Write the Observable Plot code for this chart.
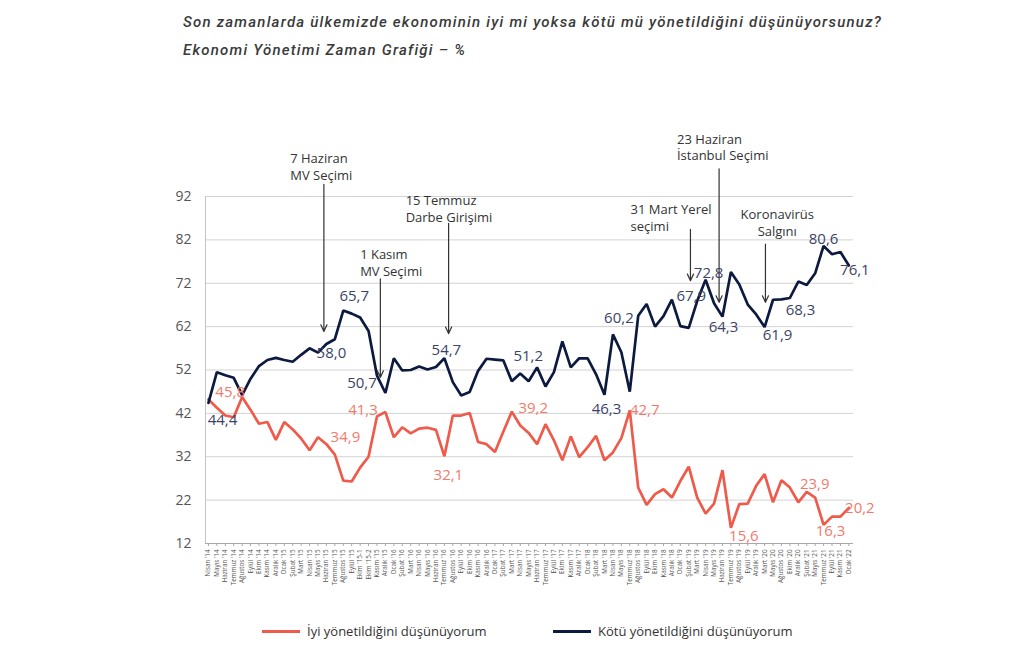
<!DOCTYPE html>
<html><head><meta charset="utf-8">
<script src="https://cdn.jsdelivr.net/npm/d3@7"></script>
<script src="https://cdn.jsdelivr.net/npm/@observablehq/plot@0.6"></script>
<style>
html,body{margin:0;padding:0;background:#fff;}
body{width:1024px;height:649px;position:relative;overflow:hidden;font-family:"Open Sans",sans-serif;}
.ttl{position:absolute;left:183px;font-family:Roboto,"Liberation Sans",sans-serif;font-style:italic;font-weight:500;font-size:15px;color:#3a3a3a;white-space:nowrap;line-height:1.2;}
#chart{position:absolute;left:0;top:70px;}
#legend{position:absolute;left:0;top:619px;width:1024px;height:24px;font-size:13px;color:#333;}
.lg{position:absolute;top:0;display:flex;align-items:center;height:24px;white-space:nowrap;}
.lg span.sw{display:inline-block;width:38px;height:3px;margin-right:7px;}
</style></head>
<body>
<div class="ttl" id="t1" style="top:13px">Son zamanlarda ülkemizde ekonominin iyi mi yoksa kötü mü yönetildiğini düşünüyorsunuz?</div>
<div class="ttl" id="t2" style="top:41px">Ekonomi Yönetimi Zaman Grafiği – %</div>
<div id="chart"></div>
<div id="legend">
  <div class="lg" style="left:262px"><span class="sw" style="background:#f05a4a"></span>İyi yönetildiğini düşünüyorum</div>
  <div class="lg" style="left:553px"><span class="sw" style="background:#0d1a40"></span>Kötü yönetildiğini düşünüyorum</div>
</div>
<script>
const months = ["Nisan '14","Mayıs '14","Haziran '14","Temmuz '14","Ağustos '14","Eylül '14","Ekim '14","Kasım '14","Aralık '14","Ocak '15","Şubat '15","Mart '15","Nisan '15","Mayıs '15","Haziran '15","Temmuz '15","Ağustos '15","Eylül '15","Ekim '15-1","Ekim '15-2","Kasım '15","Aralık '15","Ocak '16","Şubat '16","Mart '16","Nisan '16","Mayıs '16","Haziran '16","Temmuz '16","Ağustos '16","Eylül '16","Ekim '16","Kasım '16","Aralık '16","Ocak '17","Şubat '17","Mart '17","Nisan '17","Mayıs '17","Haziran '17","Temmuz '17","Eylül '17","Ekim '17","Kasım '17","Aralık '17","Ocak '18","Şubat '18","Mart '18","Nisan '18","Mayıs '18","Temmuz '18","Ağustos '18","Eylül '18","Ekim '18","Kasım '18","Aralık '18","Ocak '19","Şubat '19","Mart '19","Nisan '19","Mayıs '19","Haziran '19","Temmuz '19","Ağustos '19","Eylül '19","Aralık '19","Mart '20","Mayıs '20","Ağustos '20","Ekim '20","Aralık '20","Şubat '21","Mayıs '21","Temmuz '21","Eylül '21","Kasım '21","Ocak '22"];

const kotu = [44.4,51.5,50.8,50.2,46.2,50.0,52.9,54.3,54.8,54.3,53.9,55.5,57.0,56.0,58.0,59.1,65.7,65.0,64.1,61.0,50.7,46.7,54.7,51.9,52.0,52.8,52.1,52.7,54.7,49.2,46.1,46.9,51.8,54.6,54.4,54.2,49.4,51.2,49.4,52.6,48.2,51.5,58.6,52.6,54.7,54.7,51.0,46.3,60.2,56.1,47.0,64.5,67.2,62.0,64.4,68.2,62.1,61.7,67.9,72.8,67.4,64.3,74.6,71.7,67.1,64.8,61.9,68.2,68.3,68.6,72.4,71.6,74.3,80.6,78.7,79.2,76.1];

const iyi = [45.2,43.3,41.5,41.1,45.8,42.8,39.6,40.0,35.9,40.0,38.3,36.2,33.5,36.5,34.9,32.5,26.5,26.3,29.5,32.0,41.3,42.3,36.5,38.8,37.4,38.5,38.7,38.2,32.1,41.5,41.5,42.1,35.4,34.9,33.1,37.8,42.4,39.2,37.5,34.9,39.5,35.8,31.2,36.7,31.9,34.2,36.8,31.2,33.0,36.3,42.7,24.9,20.9,23.4,24.5,22.6,26.4,29.7,22.6,18.9,21.2,28.9,15.6,21.1,21.2,25.3,28.0,21.5,26.6,24.9,21.5,23.9,22.6,16.3,18.2,18.2,20.2];

const yTicks = [12,22,32,42,52,62,72,82,92];

// labelled points: series, index, label offset (px)
const kotuLabelIdx = [0,14,16,20,28,37,47,48,58,59,61,66,68,73,76];
const kotuLabelDx  = [14,5,11,-15,2,8,2,6,-6,3,1,13,19,0,6];
const kotuLabelDy  = [17,9,-14,8,-8,-17,14,-16,-5,-7,11,8,11,-7,5];
const iyiLabelIdx = [4,14,20,28,37,50,62,71,73,76];
const iyiLabelDx  = [-12,19,-14,4,13,15,13,8,7,11];
const iyiLabelDy  = [-5,-7,-6,19,-17,0,8,-8,6,0];

// events: arrow at index position, from top value to tip value; text block
const eventText = ["7 Haziran\nMV Seçimi","1 Kasım\nMV Seçimi","15 Temmuz\nDarbe Girişimi","31 Mart Yerel\nseçimi","23 Haziran\nİstanbul Seçimi","Koronavirüs\nSalgını"];
const eventAt   = [13.7,20.4,28.5,57.2,60.6,66.1];
const eventTop  = [94.8,73.0,85.8,84.4,98.4,81.0];
const eventTip  = [60.9,50.3,60.4,72.6,67.6,67.6];
const eventTextAt = [9.7,18.0,23.4,50.1,55.6,67.5];
const eventTextY  = [99.0,76.9,89.3,87.3,103.5,86.1];
const eventAnchor = ["start","start","start","start","start","middle"];

const rows = months.map((m,i)=>({i, month:m, iyi:iyi[i], kotu:kotu[i]}));
const events = eventText.map((t,k)=>({t, at:eventAt[k], top:eventTop[k], tip:eventTip[k], tx:eventTextAt[k], ty:eventTextY[k], anchor:eventAnchor[k]}));
const fmt = v => v.toFixed(1).replace(".", ",");

const BLUE = "#0d1a40", RED = "#f05a4a", BLUE_T = "#3b4468", RED_T = "#f27a6c";

const labelMarks = [];
kotuLabelIdx.forEach((i,k)=>labelMarks.push(Plot.text([rows[i]], {x:"i", y:"kotu", text:d=>fmt(d.kotu), dx:kotuLabelDx[k], dy:kotuLabelDy[k], fill:BLUE_T, fontSize:15})));
iyiLabelIdx.forEach((i,k)=>labelMarks.push(Plot.text([rows[i]], {x:"i", y:"iyi", text:d=>fmt(d.iyi), dx:iyiLabelDx[k], dy:iyiLabelDy[k], fill:RED_T, fontSize:15})));

const eventTextMarks = ["start","middle"].map(a => Plot.text(events.filter(e=>e.anchor===a), {x:"tx", y:"ty", text:"t", textAnchor:a, lineAnchor:"middle", lineHeight:1.3, fontSize:13, fill:"#333"}));

const chart = Plot.plot({
  width: 1024, height: 530,
  marginTop: 126, marginBottom: 57, marginLeft: 205, marginRight: 171,
  x: {domain: [-0.35, 76.55]},
  y: {domain: [12, 92]},
  style: {fontFamily: "Open Sans, sans-serif", background: "transparent", overflow: "visible"},
  marks: [
    Plot.gridY(yTicks, {stroke: "#d2d2d2", strokeOpacity: 1, strokeWidth: 1}),
    Plot.ruleX([-0.35], {stroke: "#c4c4c4"}),
    Plot.ruleY([12], {stroke: "#a8a8a8"}),
    Plot.axisY({ticks: yTicks, tickSize: 0, tickPadding: 14, fontSize: 14, fill: "#555"}),
    Plot.axisX({ticks: d3.range(months.length), tickFormat: i => months[i], tickRotate: -90, fontSize: 6.3, tickSize: 3, tickPadding: 3, stroke: "#a8a8a8", fill: "#555", label: null}),
    Plot.line(rows, {x: "i", y: "iyi", stroke: RED, strokeWidth: 2.7, strokeLinejoin: "miter"}),
    Plot.line(rows, {x: "i", y: "kotu", stroke: BLUE, strokeWidth: 2.7, strokeLinejoin: "miter"}),
    Plot.arrow(events, {x1: "at", x2: "at", y1: "top", y2: "tip", stroke: "#333", strokeWidth: 1.2, headLength: 9, headAngle: 50}),
    ...eventTextMarks,
    ...labelMarks
  ]
});
document.getElementById("chart").appendChild(chart);

// widen the title by letter spacing to the reference line length
const t1 = document.getElementById("t1"), t2 = document.getElementById("t2");
const w = t1.getBoundingClientRect().width;
const ls = (699 - w) / t1.textContent.length;
t1.style.letterSpacing = ls + "px";
t2.style.letterSpacing = ls + "px";
</script>
</body></html>
